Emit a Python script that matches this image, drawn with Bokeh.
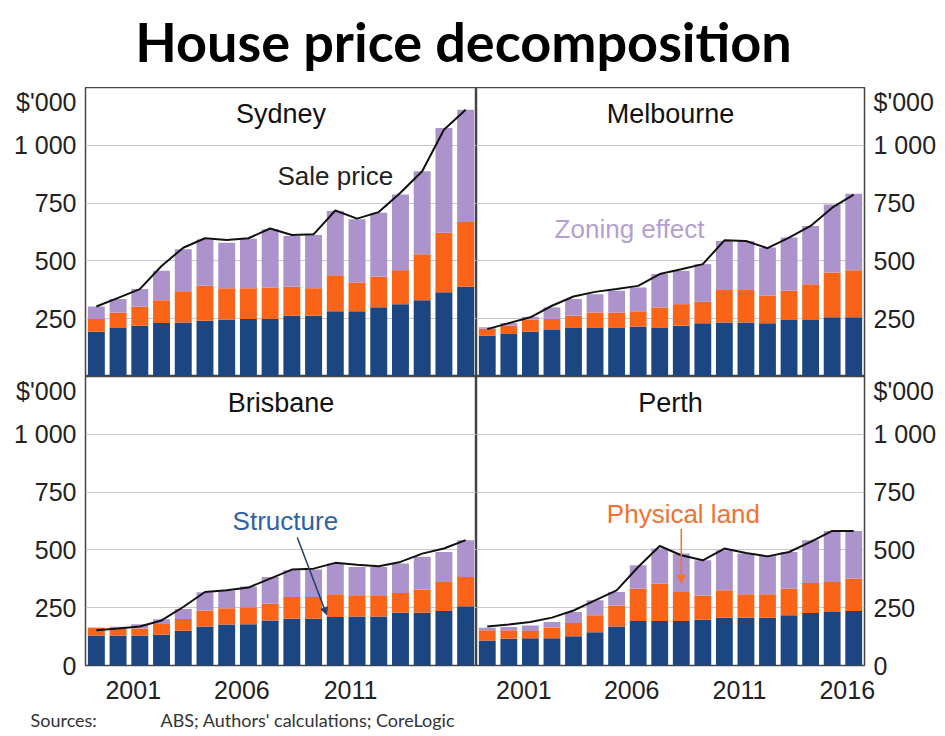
from bokeh.plotting import figure
from bokeh.layouts import column, row
from bokeh.models import ColumnDataSource, FixedTicker, Label, Arrow, NormalHead, Range1d
from bokeh.embed import file_html
from bokeh.resources import INLINE

# ---------------- data ($'000) ----------------
years = list(range(1999, 2017))

sydney_structure = [194, 210, 220, 231, 234, 241, 246, 249, 249, 263, 263, 282, 282, 299, 313, 330, 364, 388]
sydney_land      = [55, 67, 82, 99, 132, 151, 136, 133, 136, 125, 119, 156, 125, 132, 147, 199, 258, 280]
sydney_zoning    = [54, 58, 76, 127, 184, 201, 197, 214, 252, 220, 230, 278, 273, 277, 327, 359, 453, 486]
sydney_sale      = [303, 340, 378, 478, 557, 598, 590, 598, 640, 612, 615, 718, 683, 711, 795, 888, 1067, 1154]

melbourne_structure = [177, 184, 194, 201, 210, 210, 210, 216, 210, 220, 230, 234, 234, 230, 244, 244, 256, 256]
melbourne_land      = [31, 36, 52, 48, 53, 67, 67, 66, 89, 93, 93, 140, 140, 119, 127, 155, 194, 204]
melbourne_zoning    = [5, 11, 12, 50, 72, 79, 94, 103, 144, 144, 163, 212, 212, 209, 230, 252, 294, 330]
melbourne_sale      = [205, 231, 256, 306, 346, 366, 378, 392, 443, 464, 486, 589, 586, 555, 601, 651, 730, 787]

brisbane_structure = [130, 130, 130, 133, 150, 169, 177, 178, 195, 202, 202, 210, 212, 212, 228, 228, 236, 256]
brisbane_land      = [32, 30, 30, 47, 51, 69, 71, 74, 72, 94, 94, 98, 89, 89, 86, 100, 125, 127]
brisbane_zoning    = [2, 8, 18, 20, 43, 79, 76, 90, 116, 116, 119, 133, 125, 125, 127, 142, 130, 159]
brisbane_sale      = [152, 160, 169, 195, 253, 318, 325, 337, 376, 415, 419, 444, 436, 429, 448, 484, 506, 542]

perth_structure = [108, 116, 118, 118, 126, 144, 169, 192, 192, 192, 198, 207, 207, 207, 217, 227, 231, 236]
perth_land      = [44, 36, 31, 45, 58, 73, 91, 140, 162, 126, 105, 118, 101, 101, 115, 130, 130, 140]
perth_zoning    = [11, 14, 24, 25, 47, 65, 58, 102, 152, 166, 152, 174, 176, 169, 159, 185, 221, 206]
perth_sale      = [169, 177, 188, 207, 238, 282, 325, 426, 517, 477, 455, 506, 487, 472, 491, 535, 582, 582]

top_ticks = [250, 500, 750, 1000, 1220]
bottom_ticks = [0, 250, 500, 750, 1000, 1220]
tick_text = {0: "0", 250: "250", 500: "500", 750: "750", 1000: "1 000", 1220: "$'000"}
left_year_labels = ["2001", "2006", "2011"]
right_year_labels = ["2001", "2006", "2011", "2016"]

# ---------------- style ----------------
STRUCT = "#1b4682"
LAND = "#fa6418"
ZONE = "#ad93cc"
FONT = "Liberation Sans"
FRAME_W = 391
FRAME_H = 289
LABEL_SHIFT = 0.3   # year labels sit slightly left of the bar centre in the original


def panel(name, structure, land, zoning, sale, left, bottom, year_labels=None):
    lb = 85 if left else 0
    rb = 0 if left else 72
    bb = 42 if bottom else 0
    p = figure(width=FRAME_W + lb + rb, height=FRAME_H + bb,
               x_range=Range1d(1998.5, 2016.5), y_range=Range1d(0, 1250),
               output_backend="svg", toolbar_location=None, title=None,
               min_border_left=lb, min_border_right=rb,
               min_border_top=0, min_border_bottom=bb,
               x_axis_location="below" if bottom else None,
               y_axis_location="left" if left else "right")
    src = ColumnDataSource(dict(year=years, structure=structure, land=land,
                                zoning=zoning, sale=sale))
    p.vbar_stack(["structure", "land", "zoning"], x="year", width=0.78,
                 fill_color=[STRUCT, LAND, ZONE], line_color=None, source=src)
    p.line(x="year", y="sale", source=src, line_color="#111111", line_width=2)

    p.xgrid.visible = False
    p.ygrid.ticker = FixedTicker(ticks=[250, 500, 750, 1000])
    p.ygrid.grid_line_color = "#c8c8c8"
    p.ygrid.grid_line_width = 1

    p.outline_line_color = "#444444"
    p.outline_line_width = 1.5

    ticks = bottom_ticks if bottom else top_ticks
    p.yaxis.ticker = FixedTicker(ticks=ticks)
    p.yaxis.major_label_overrides = {t: tick_text[t] for t in ticks}
    for ax in p.axis:
        ax.axis_line_color = None
        ax.major_tick_line_color = None
        ax.minor_tick_line_color = None
        ax.major_label_text_font = FONT
        ax.major_label_text_font_size = "25px"
        ax.major_label_text_color = "#222222"
    p.yaxis.major_label_standoff = 3
    if bottom:
        pos = [int(s) - LABEL_SHIFT for s in year_labels]
        p.xaxis.ticker = FixedTicker(ticks=pos)
        p.xaxis.major_label_overrides = {q: s for q, s in zip(pos, year_labels)}
        p.xaxis.major_label_standoff = 15
        p.xaxis.major_tick_out = 0

    p.add_layout(Label(x=2007.5, y=1137, text=name, text_align="center",
                       text_baseline="middle", text_font=FONT,
                       text_font_size="27px", text_color="#111111"))
    return p


syd = panel("Sydney", sydney_structure, sydney_land, sydney_zoning, sydney_sale, True, False)
mel = panel("Melbourne", melbourne_structure, melbourne_land, melbourne_zoning, melbourne_sale, False, False)
bri = panel("Brisbane", brisbane_structure, brisbane_land, brisbane_zoning, brisbane_sale, True, True, left_year_labels)
per = panel("Perth", perth_structure, perth_land, perth_zoning, perth_sale, False, True, right_year_labels)

# annotations
ANN = "26px"
syd.add_layout(Label(x=2010.0, y=869, text="Sale price", text_align="center",
                     text_baseline="middle", text_font=FONT, text_font_size=ANN,
                     text_color="#222222"))
mel.add_layout(Label(x=2005.6, y=640, text="Zoning effect", text_align="center",
                     text_baseline="middle", text_font=FONT, text_font_size=ANN,
                     text_color="#b59fd2"))
bri.add_layout(Label(x=2007.7, y=627, text="Structure", text_align="center",
                     text_baseline="middle", text_font=FONT, text_font_size=ANN,
                     text_color="#2f62a3"))
bri.add_layout(Arrow(end=NormalHead(size=7, fill_color="#24406e", line_color="#24406e"),
                     x_start=2008.25, y_start=554, x_end=2009.6, y_end=220,
                     line_color="#24406e", line_width=1.5))
per.add_layout(Label(x=2008.1, y=657, text="Physical land", text_align="center",
                     text_baseline="middle", text_font=FONT, text_font_size=ANN,
                     text_color="#f4712f"))
per.add_layout(Arrow(end=NormalHead(size=8, fill_color="#f4712f", line_color="#f4712f"),
                     x_start=2008.0, y_start=592, x_end=2008.0, y_end=356,
                     line_color="#f4712f", line_width=1.5))

# title
TOTAL_W = 85 + FRAME_W + FRAME_W + 72
title = figure(width=TOTAL_W, height=87, x_range=Range1d(0, TOTAL_W), y_range=Range1d(0, 87),
               output_backend="svg", toolbar_location=None, min_border=0, title=None,
               x_axis_location=None, y_axis_location=None)
title.grid.visible = False
title.outline_line_color = None
title.add_layout(Label(x=463, y=46, text="House price decomposition", text_align="center",
                       text_baseline="middle", text_font="Lato", text_font_style="bold",
                       text_font_size="54px", text_color="#000000"))

# footer
footer = figure(width=TOTAL_W, height=23, x_range=Range1d(0, TOTAL_W), y_range=Range1d(0, 23),
                output_backend="svg", toolbar_location=None, min_border=0, title=None,
                x_axis_location=None, y_axis_location=None)
footer.grid.visible = False
footer.outline_line_color = None
footer.add_layout(Label(x=30, y=11, text="Sources:", text_baseline="middle",
                        text_font="Lato", text_font_size="18px", text_color="#333333"))
footer.add_layout(Label(x=160, y=11, text="ABS; Authors' calculations; CoreLogic",
                        text_baseline="middle", text_font="Lato", text_font_size="18px",
                        text_color="#333333"))

layout = column(title, row(syd, mel), row(bri, per), footer)

open("out.html", "w").write(file_html(layout, INLINE))
